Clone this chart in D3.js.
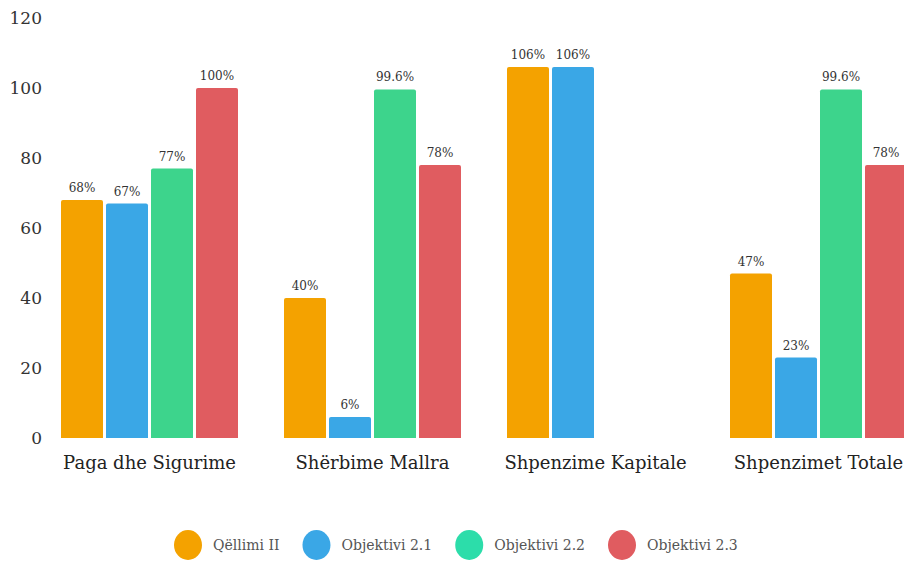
<!DOCTYPE html>
<html>
<head>
<meta charset="utf-8">
<script src="https://cdn.jsdelivr.net/npm/d3@7"></script>
<style>
  body { margin: 0; background: #fff; }
  svg text { font-family: "DejaVu Serif", serif; }
</style>
</head>
<body>
<div id="chart"></div>
<script>
var categories = ["Paga dhe Sigurime", "Shërbime Mallra", "Shpenzime Kapitale", "Shpenzimet Totale"],
    series = ["Qëllimi II", "Objektivi 2.1", "Objektivi 2.2", "Objektivi 2.3"],
    qellimi = [68, 40, 106, 47],
    obj21 = [67, 6, 106, 23],
    obj22 = [77, 99.6, null, 99.6],
    obj23 = [100, 78, null, 78],
    valueLabels = [["68%", "40%", "106%", "47%"], ["67%", "6%", "106%", "23%"],
                   ["77%", "99.6%", "", "99.6%"], ["100%", "78%", "", "78%"]],
    yTicks = [0, 20, 40, 60, 80, 100, 120],
    colors = ["#F4A200", "#3AA7E6", "#3DD48C", "#E05C60"],
    legendColors = ["#F4A200", "#3AA7E6", "#2CDDAA", "#E05C60"];

var values = [qellimi, obj21, obj22, obj23];

var width = 904, height = 563,
    margin = { top: 18, left: 39.5, bottom: 125 },
    plotH = height - margin.top - margin.bottom;

var svg = d3.select("#chart").append("svg")
    .attr("width", width)
    .attr("height", height);

var x0 = d3.scaleBand()
    .domain(categories)
    .range([margin.left, margin.left + 4 * 223])
    .paddingInner(0)
    .paddingOuter(0);

var x1 = d3.scaleBand()
    .domain(series)
    .range([21.5, 198.5])
    .paddingInner(3 / 45);

var y = d3.scaleLinear()
    .domain([0, 120])
    .range([margin.top + plotH, margin.top]);

// y tick labels
svg.selectAll(".ylabel")
    .data(yTicks)
    .enter().append("text")
    .attr("x", 42)
    .attr("y", function(d) { return y(d); })
    .attr("dy", "0.35em")
    .style("text-anchor", "end")
    .style("font-size", "17px")
    .style("fill", "#333")
    .text(function(d) { return d; });

// bars
var groups = svg.selectAll(".group")
    .data(categories)
    .enter().append("g")
    .attr("transform", function(d) { return "translate(" + x0(d) + ",0)"; });

series.forEach(function(s, si) {
  groups.each(function(c, ci) {
    var v = values[si][ci];
    if (v == null) return;
    var g = d3.select(this);
    g.append("path")
      .attr("d", function() {
        var bx = x1(s), bw = x1.bandwidth(), top = y(v), bot = y(0), r = 2;
        return "M" + bx + "," + bot + "V" + (top + r) + "Q" + bx + "," + top + " " + (bx + r) + "," + top +
               "H" + (bx + bw - r) + "Q" + (bx + bw) + "," + top + " " + (bx + bw) + "," + (top + r) + "V" + bot + "Z";
      })
      .style("fill", colors[si]);
    g.append("text")
      .attr("x", x1(s) + x1.bandwidth() / 2)
      .attr("y", y(v) - 8)
      .style("text-anchor", "middle")
      .style("font-size", "12px")
      .style("fill", "#333")
      .text(valueLabels[si][ci]);
  });
});

// category labels
svg.selectAll(".xlabel")
    .data(categories)
    .enter().append("text")
    .attr("x", function(d) { return x0(d) + x0.bandwidth() / 2 - 1.5; })
    .attr("y", 469)
    .style("text-anchor", "middle")
    .style("font-size", "18px")
    .style("fill", "#222")
    .text(function(d) { return d; });

// legend
var legend = svg.append("g");
var lx = 174;
series.forEach(function(s, i) {
  var item = legend.append("g").attr("transform", "translate(" + lx + ",545)");
  item.append("ellipse")
    .attr("cx", 14).attr("cy", 0)
    .attr("rx", 14).attr("ry", 15)
    .style("fill", legendColors[i]);
  var t = item.append("text")
    .attr("x", 39)
    .attr("dy", "0.35em")
    .style("font-size", "14px")
    .style("fill", "#555")
    .text(s);
  lx += 39 + t.node().getComputedTextLength() + 23;
});
</script>
</body>
</html>
